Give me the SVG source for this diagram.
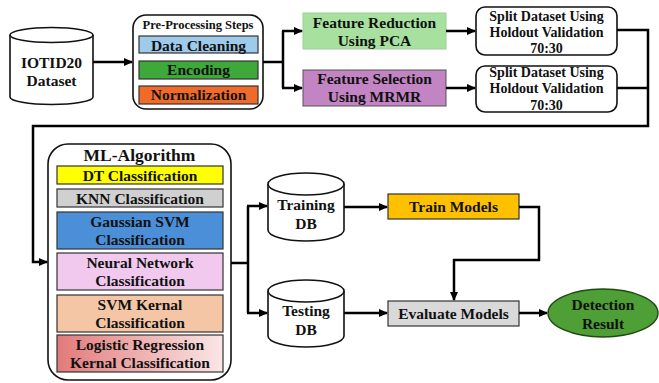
<svg xmlns="http://www.w3.org/2000/svg" width="659" height="383" viewBox="0 0 659 383">
<defs>
<marker id="ah" markerUnits="userSpaceOnUse" markerWidth="9" markerHeight="8" refX="8" refY="4" orient="auto">
<path d="M0,0 L9,4 L0,8 z" fill="#000"/>
</marker>
<linearGradient id="lr" x1="0" y1="0" x2="1" y2="0">
<stop offset="0" stop-color="#e27a7a"/>
<stop offset="1" stop-color="#fbe6e6"/>
</linearGradient>
</defs>
<style>
text{font-family:"Liberation Serif","Times New Roman",serif;font-weight:bold;fill:#111;text-anchor:middle}
.t15{font-size:15.5px}
.t14{font-size:14px}
.t12{font-size:12.5px}
.t17{font-size:17.5px}
.box{stroke:#333;stroke-width:1.2}
.rbox{fill:#fff;stroke:#111;stroke-width:1.6}
.cyl{fill:#fff;stroke:#111;stroke-width:1.6}
.conn path{fill:none;stroke:#000;stroke-width:2.5}
</style>
<rect width="659" height="383" fill="#fff"/>

<g id="iotid20">
<path class="cyl" d="M10,35 L10,97 A41.5,7.5 0 0 0 93,97 L93,35 A41.5,7.5 0 0 0 10,35 Z"/>
<path class="cyl" d="M10,35 A41.5,7.5 0 0 0 93,35" fill="none"/>
<text class="t15" x="51.5" y="68">IOTID20</text>
<text class="t15" x="51.5" y="86">Dataset</text>
</g>

<g id="preprocessing">
<rect class="rbox" x="133" y="15" width="130" height="94" rx="13"/>
<text class="t12" x="198" y="29">Pre-Processing Steps</text>
<rect class="box" x="139" y="36" width="119" height="17" fill="#9fcbeb" stroke="#5b9bd5"/>
<text class="t15" x="198.5" y="50.5">Data Cleaning</text>
<rect class="box" x="139" y="61" width="119" height="18" fill="#3ea83a" stroke="#2d7a2a"/>
<text class="t15" x="198.5" y="75">Encoding</text>
<rect class="box" x="139" y="86" width="119" height="18" fill="#f06b2a" stroke="#b84d1a"/>
<text class="t15" x="198.5" y="100">Normalization</text>
</g>

<g id="feature-reduction">
<rect x="303" y="13" width="143" height="36" fill="#a8e0a0" stroke="#9ccf94" stroke-width="1"/>
<text class="t15" x="374.5" y="28">Feature Reduction</text>
<text class="t15" x="374.5" y="46">Using PCA</text>
</g>

<g id="feature-selection">
<rect x="303" y="70" width="143" height="36" fill="#c384c4" stroke="#555" stroke-width="1"/>
<text class="t15" x="374.5" y="84">Feature Selection</text>
<text class="t15" x="374.5" y="102">Using MRMR</text>
</g>

<g id="split1">
<rect class="rbox" x="476" y="7" width="141" height="48" rx="9"/>
<text class="t14" x="546.5" y="21">Split Dataset Using</text>
<text class="t14" x="546.5" y="37">Holdout Validation</text>
<text class="t14" x="546.5" y="53">70:30</text>
</g>

<g id="split2">
<rect class="rbox" x="476" y="66" width="141" height="46" rx="9"/>
<text class="t14" x="546.5" y="77">Split Dataset Using</text>
<text class="t14" x="546.5" y="93">Holdout Validation</text>
<text class="t14" x="546.5" y="110">70:30</text>
</g>

<g id="ml-algorithm">
<rect class="rbox" x="48" y="144" width="183" height="236" rx="20"/>
<text class="t17" x="139.5" y="161">ML-Algorithm</text>
<rect class="box" x="57" y="166" width="166" height="18" fill="#ffff00"/>
<text class="t15" x="140" y="181">DT Classification</text>
<rect class="box" x="57" y="189" width="166" height="18" fill="#d0d0d0"/>
<text class="t15" x="140" y="204">KNN Classification</text>
<rect class="box" x="57" y="212" width="166" height="37" fill="#4a8fd8"/>
<text class="t15" x="140" y="227">Gaussian SVM</text>
<text class="t15" x="140" y="245">Classification</text>
<rect class="box" x="57" y="253" width="166" height="37" fill="#f2c9ee"/>
<text class="t15" x="140" y="268">Neural Network</text>
<text class="t15" x="140" y="286">Classification</text>
<rect class="box" x="57" y="295" width="166" height="37" fill="#f4c6a6"/>
<text class="t15" x="140" y="310">SVM Kernal</text>
<text class="t15" x="140" y="328">Classification</text>
<rect class="box" x="57" y="335" width="166" height="37" fill="url(#lr)"/>
<text class="t15" x="140" y="350">Logistic Regression</text>
<text class="t15" x="140" y="368">Kernal Classification</text>
</g>

<g id="training-db">
<path class="cyl" d="M268,184 L268,230 A38,11 0 0 0 344,230 L344,184 A38,11 0 0 0 268,184 Z"/>
<path class="cyl" d="M268,184 A38,11 0 0 0 344,184" fill="none"/>
<text class="t15" x="306" y="210">Training</text>
<text class="t15" x="306" y="229">DB</text>
</g>

<g id="testing-db">
<path class="cyl" d="M268,291 L268,336 A38,11 0 0 0 344,336 L344,291 A38,11 0 0 0 268,291 Z"/>
<path class="cyl" d="M268,291 A38,11 0 0 0 344,291" fill="none"/>
<text class="t15" x="306" y="316">Testing</text>
<text class="t15" x="306" y="335">DB</text>
</g>

<g id="train-models">
<rect class="box" x="388" y="194" width="131" height="25" fill="#ffc000"/>
<text class="t15" x="453.5" y="212">Train Models</text>
</g>

<g id="evaluate-models">
<rect class="box" x="388" y="301" width="131" height="25" fill="#d9d9d9"/>
<text class="t15" x="453.5" y="319">Evaluate Models</text>
</g>

<g id="detection-result">
<ellipse cx="603" cy="313" rx="55" ry="24" fill="#4e9f36" stroke="#1f4a14" stroke-width="1.4"/>
<text class="t15" x="603" y="310">Detection</text>
<text class="t15" x="603" y="329">Result</text>
</g>

<g class="conn" id="connectors">
<path d="M93,62 H132" marker-end="url(#ah)"/>
<path d="M263,62 H283"/>
<path d="M283,31 V88"/>
<path d="M282,31 H302" marker-end="url(#ah)"/>
<path d="M282,88 H302" marker-end="url(#ah)"/>
<path d="M446,31 H475" marker-end="url(#ah)"/>
<path d="M446,88 H475" marker-end="url(#ah)"/>
<path d="M617,30 H648 V126 H33 V262 H47" marker-end="url(#ah)"/>
<path d="M617,88 H648"/>
<path d="M231,263 H248"/>
<path d="M248,206 V313"/>
<path d="M247,206 H267" marker-end="url(#ah)"/>
<path d="M247,313 H267" marker-end="url(#ah)"/>
<path d="M344,207 H387" marker-end="url(#ah)"/>
<path d="M519,207 H539 V260 H454 V300" marker-end="url(#ah)"/>
<path d="M344,313 H387" marker-end="url(#ah)"/>
<path d="M519,313 H547" marker-end="url(#ah)"/>
</g>
</svg>
